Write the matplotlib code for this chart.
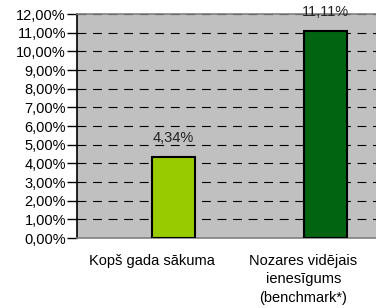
import matplotlib
matplotlib.use("Agg")
import matplotlib.pyplot as plt
from matplotlib.ticker import MultipleLocator, FuncFormatter

# data
categories = ["Kopš gada sākuma", "Nozares vidējais\nienesīgums\n(benchmark*)"]
values = [4.34, 11.11]
bar_colors = ["#99CC00", "#006411"]

plt.rcParams['font.family'] = ['Liberation Sans', 'DejaVu Sans']

fig = plt.figure(figsize=(3.76, 3.08), dpi=100)
ax = fig.add_axes([77/376, 1 - 238/308, 1 - 77/376, (238 - 14)/308])
ax.set_facecolor("#C0C0C0")

x = list(range(len(values)))
# bars sit in the right-hand slot of each category (like a clustered column)
shift = 0.145
bx = [xi + shift for xi in x]
ax.bar(bx, values, width=0.283, color=bar_colors, edgecolor="black", linewidth=1.5, zorder=3)

for xi, v in zip(bx, values):
    ax.text(xi, v + 0.62, f"{v:.2f}%".replace(".", ","), ha="center", va="bottom",
            fontsize=10.5, color="#222222", zorder=4)

ax.set_ylim(0, 12)
ax.set_xlim(-0.49, 1.477)
ax.yaxis.set_major_locator(MultipleLocator(1))
ax.yaxis.set_major_formatter(FuncFormatter(lambda v, p: f"{v:.2f}%".replace(".", ",")))
ax.grid(axis="y", color="black", linestyle=(0, (8, 6)), linewidth=0.8, zorder=1)

ax.set_xticks(x)
ax.set_xticklabels(categories, fontsize=10.5, linespacing=1.4)
ax.tick_params(axis="x", length=0, pad=11.5)
ax.tick_params(axis="y", length=7, width=1, labelsize=10.5, pad=1, color="black")

ax.spines["left"].set_color("black")
ax.spines["left"].set_linewidth(1.2)
for s in ["top", "bottom"]:
    ax.spines[s].set_color("#808080")
    ax.spines[s].set_linewidth(1.2)
ax.spines["right"].set_visible(False)

fig.savefig("out.png", dpi=100)
